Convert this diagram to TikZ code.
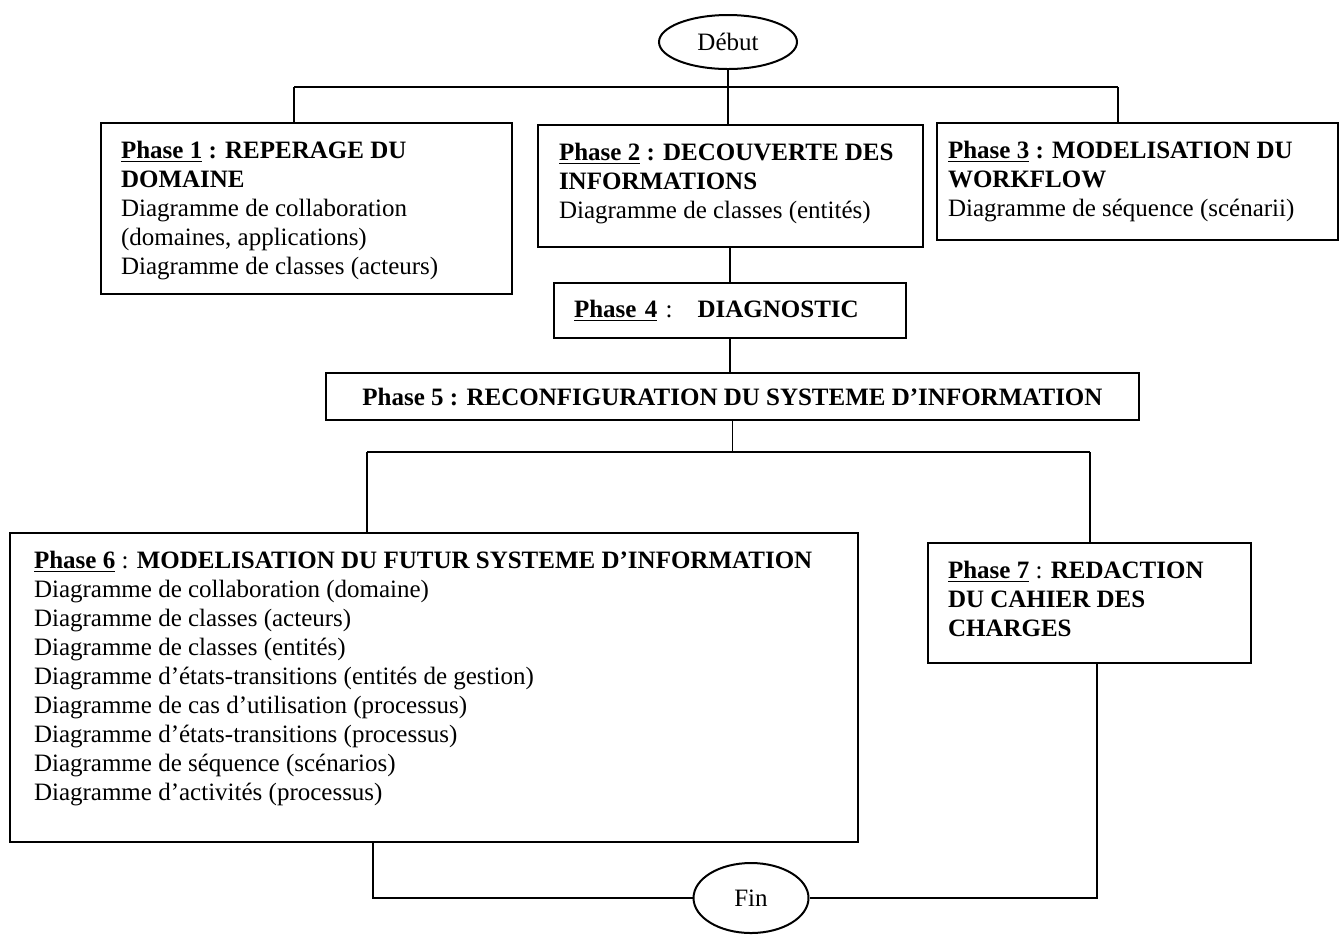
\documentclass[tikz,border=0pt]{standalone}
\usepackage{fontspec}
\setmainfont{Liberation Serif}[BoldFont={Liberation Serif Bold}]
\usetikzlibrary{shapes.geometric}
\newcommand{\phasebody}[3]{\parbox[t][#2][t]{#1}{\raggedright #3}}

\begin{document}
\begin{tikzpicture}[x=0.5pt, y=-0.5pt,
    font=\fontsize{12.5pt}{14.5pt}\selectfont,
    phase/.style={draw, line width=1pt, rectangle, anchor=north west, inner ysep=9pt},
    band/.style={draw, line width=1pt, rectangle, anchor=north west, inner sep=0pt},
    terminal/.style={draw, line width=1pt, ellipse, inner sep=0pt},
    link/.style={line width=0.8pt}]
    \useasboundingbox (0,0) rectangle (1339,934);
    \node[terminal, minimum width=69pt, minimum height=27pt] (debut) at (728,42) {Début};
    \node[phase, inner xsep=10pt] (p1) at (100,122) {\phasebody{185.5pt}{67.5pt}{%
        \textbf{\underline{Phase 1} : REPERAGE DU}\\
        \textbf{DOMAINE}\\
        Diagramme de collaboration\\
        (domaines, applications)\\
        Diagramme de classes (acteurs)}};
    \node[phase, inner xsep=10.5pt] (p2) at (537,124) {\phasebody{171.5pt}{43pt}{%
        \textbf{\underline{Phase 2} : DECOUVERTE DES}\\
        \textbf{INFORMATIONS}\\
        Diagramme de classes (entités)}};
    \node[phase, inner xsep=5.5pt] (p3) at (936,122) {\phasebody{189.5pt}{40.5pt}{%
        \textbf{\underline{Phase 3} : MODELISATION DU}\\
        \textbf{WORKFLOW}\\
        Diagramme de séquence (scénarii)}};
    \node[band, inner xsep=10pt, text width=156pt, align=left, minimum height=27.5pt] (p4) at (553,282)
        {\textbf{\underline{Phase 4}} :\quad\textbf{DIAGNOSTIC}};
    \node[band, minimum width=406.5pt, minimum height=23.5pt] (p5) at (325,372)
        {\textbf{Phase 5 : RECONFIGURATION DU SYSTEME D’INFORMATION}};
    \node[phase, inner xsep=12pt] (p6) at (9,532) {\phasebody{400pt}{136.5pt}{%
        \textbf{\underline{Phase 6}} : \textbf{MODELISATION DU FUTUR SYSTEME D’INFORMATION}\\
        Diagramme de collaboration (domaine)\\
        Diagramme de classes (acteurs)\\
        Diagramme de classes (entités)\\
        Diagramme d’états-transitions (entités de gestion)\\
        Diagramme de cas d’utilisation (processus)\\
        Diagramme d’états-transitions (processus)\\
        Diagramme de séquence (scénarios)\\
        Diagramme d’activités (processus)}};
    \node[phase, inner xsep=10pt] (p7) at (927,542) {\phasebody{141.5pt}{42pt}{%
        \textbf{\underline{Phase 7}} : \textbf{REDACTION}\\
        \textbf{DU CAHIER DES}\\
        \textbf{CHARGES}}};
    \node[terminal, minimum width=57.5pt, minimum height=35pt] (fin) at (751,898) {Fin};

    \coordinate (topL) at (294,87);
    \coordinate (topR) at (1118,87);
    \coordinate (midL) at (367,452);
    \coordinate (midR) at (1090,452);
    \coordinate (botL) at (373,898);
    \coordinate (botR) at (1097,898);

    \draw[link] (topL) -- (topR);
    \draw[link] (debut.south) -- (debut.south |- p2.north);
    \draw[link] (topL) -- (topL |- p1.north);
    \draw[link] (topR) -- (topR |- p3.north);
    \draw[link] (p2.south) -- (p2.south -| p4.north) -- (p4.north);
    \draw[link] (p4.south) -- (p4.south |- p5.north);
    \draw[link] (p5.south) -- (p5.south |- midL);
    \draw[link] (midL) -- (midR);
    \draw[link] (midL) -- (midL |- p6.north);
    \draw[link] (midR) -- (midR |- p7.north);
    \draw[link] (botL |- p6.south) -- (botL) -- (fin.west);
    \draw[link] (botR |- p7.south) -- (botR) -- (fin.east);
\end{tikzpicture}
\end{document}
